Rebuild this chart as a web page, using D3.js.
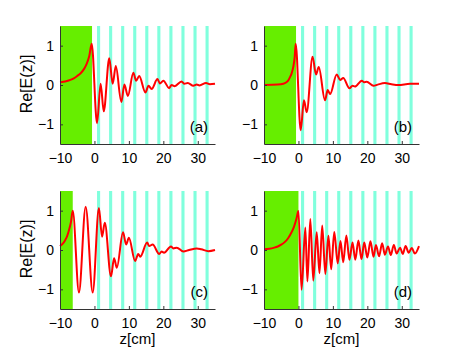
<!DOCTYPE html>
<html>
<head>
<meta charset="utf-8">
<script src="https://cdn.jsdelivr.net/npm/d3@7"></script>
<style>
  body { margin: 0; background: #fff; }
  text { font-family: "Liberation Sans", Arial, Helvetica, sans-serif; }
</style>
</head>
<body>
<svg id="fig" width="463" height="348"></svg>
<script>
// tick labels
var xTicks = [-10, 0, 10, 20, 30];
var yTicks = [-1, 0, 1];

// positions (cm) of the thin cyan layers, same in every panel
var layers = [1.2, 4.7, 8.2, 11.7, 15.2, 18.7, 22.2, 25.7, 29.2, 32.7];
var layerWidth = 0.9;

// end of the green region for each panel
var greenEnd = { a: -0.7, b: -0.7, c: -6.3, d: 0 };

// Re[E(z)], [z, value]
var curveA = [[-10, 0.07], [-9, 0.08], [-8, 0.1], [-7, 0.13], [-6, 0.17], [-5, 0.23], [-4, 0.3], [-3, 0.41],
  [-2.2, 0.55], [-1.5, 0.74], [-0.8, 1.05],
  [0.75, -0.97], [1.8, 0.03], [2.7, -0.67], [4.3, 0.68], [5.3, 0.03], [6.2, 0.48], [7.8, -0.43],
  [8.7, 0.01], [9.7, -0.28], [11.3, 0.31], [12.1, 0.11], [13.0, 0.23], [14.8, -0.19], [15.7, -0.02],
  [16.6, -0.1], [18.3, 0.15], [19.0, 0.04], [20.0, 0.11], [21.7, -0.08], [22.4, 0.0], [23.3, -0.03],
  [25.3, 0.09], [26.1, 0.03], [27.1, 0.05], [28.7, -0.02], [29.7, 0.01], [30.5, -0.01], [32.4, 0.05],
  [33.5, 0.02], [35, 0.03]];

var curveB = [[-10, 0.0], [-6, 0.01], [-4.4, 0.03], [-3.5, 0.07], [-3, 0.11], [-2.45, 0.2], [-2, 0.29],
  [-1.5, 0.46], [-1.1, 0.7], [-0.8, 1.05],
  [0.65, -1.15], [1.6, -0.39], [2.4, -0.69], [4.1, 0.72], [5.1, 0.27], [5.9, 0.46], [7.7, -0.39],
  [8.5, -0.13], [9.2, -0.23], [11.1, 0.27], [12.1, 0.13], [13.0, 0.18], [14.8, -0.08], [15.7, -0.02],
  [16.4, -0.04], [18.4, 0.11], [19.0, 0.07], [19.8, 0.08], [21.8, -0.02], [23.0, 0.01], [25.1, 0.05],
  [27.0, 0.02], [29, 0.0], [32.4, 0.03], [35, 0.03]];

var curveC = [[-10, 0.1], [-9.2, 0.16], [-8.5, 0.25], [-7.9, 0.36], [-7.4, 0.5], [-6.8, 0.72], [-6.3, 1.0],
  [-4.5, -1.08], [-2.55, 1.1], [-0.5, -1.08],
  [1.3, 1.07], [2.2, 0.34], [3.0, 0.69], [4.8, -0.67], [5.7, -0.21], [6.5, -0.45], [8.3, 0.45],
  [9.2, 0.14], [10.0, 0.31], [11.8, -0.28], [12.7, -0.1], [13.3, -0.17], [15.3, 0.19], [15.9, 0.1],
  [16.9, 0.14], [18.8, -0.1], [19.5, -0.04], [20.2, -0.07], [22.2, 0.09], [22.9, 0.04], [23.9, 0.06],
  [25.8, -0.04], [27.5, 0.0], [29.7, 0.04], [31.0, 0.02], [33.1, -0.03], [35, 0.0]];

var curveD = [[-10, 0.02], [-8.5, 0.03], [-7, 0.06], [-6, 0.09], [-5, 0.135], [-4, 0.2], [-3, 0.3],
  [-2, 0.45], [-1.3, 0.59], [-0.6, 0.79], [0, 0.99],
  [0.9, -1.01], [2.0, 0.57], [2.6, -0.8], [3.45, 0.79], [4.3, -0.78], [5.3, 0.45], [6.1, -0.59],
  [6.9, 0.62], [7.8, -0.61], [8.7, 0.36], [9.5, -0.49], [10.4, 0.46], [11.4, -0.34], [12.2, 0.23],
  [13.0, -0.31], [13.9, 0.37], [14.8, -0.25], [15.7, 0.19], [16.5, -0.25], [17.4, 0.24], [18.3, -0.23],
  [19.1, 0.19], [20.0, -0.19], [20.9, 0.22], [21.8, -0.17], [22.5, 0.13], [23.4, -0.16], [24.3, 0.17],
  [25.1, -0.12], [26.0, 0.09], [26.8, -0.13], [27.7, 0.13], [28.5, -0.09], [29.5, 0.06], [30.3, -0.1],
  [31.1, 0.1], [32.0, -0.07], [32.9, 0.05], [33.8, -0.09], [35, 0.1]];

var svg = d3.select("#fig");
var pw = 155, ph = 118;

var panels = [
  { key: "a", left: 60, top: 26, data: curveA, ylab: true, xlab: false },
  { key: "b", left: 264, top: 26, data: curveB, ylab: false, xlab: false },
  { key: "c", left: 60, top: 191, data: curveC, ylab: true, xlab: true },
  { key: "d", left: 264, top: 191, data: curveD, ylab: false, xlab: true }
];

var x = d3.scaleLinear().domain([-10, 35]).range([0, pw]);
var y = d3.scaleLinear().domain([-1.5, 1.5]).range([ph, 0]);

var line = d3.line()
  .x(function (d) { return x(d[0]); })
  .y(function (d) { return y(d[1]); })
  .curve(d3.curveMonotoneX);

var fmt = function (d) { return d < 0 ? "\u2212" + (-d) : d; };

panels.forEach(function (p) {
  var g = svg.append("g").attr("transform", "translate(" + p.left + "," + p.top + ")");

  // green region
  g.append("rect")
    .attr("x", x(-10)).attr("y", 0)
    .attr("width", x(greenEnd[p.key]) - x(-10))
    .attr("height", ph)
    .attr("fill", "#66ee00");

  // cyan layers
  g.selectAll(".layer")
    .data(layers)
    .enter().append("rect")
    .attr("class", "layer")
    .attr("x", function (d) { return x(d - layerWidth / 2); })
    .attr("y", 0)
    .attr("width", x(layerWidth) - x(0))
    .attr("height", ph)
    .attr("fill", "#80ffdd");

  g.append("path")
    .datum(p.data)
    .attr("fill", "none")
    .attr("stroke", "#ff0000")
    .attr("stroke-width", 2)
    .attr("d", line);

  // axes, MATLAB style ticks pointing in
  var xa = g.append("g")
    .attr("transform", "translate(0," + ph + ")")
    .call(d3.axisBottom(x).tickValues(xTicks).tickSizeInner(-3).tickSizeOuter(0)
      .tickPadding(9).tickFormat(fmt));
  var ya = g.append("g")
    .call(d3.axisLeft(y).tickValues(yTicks).tickSizeInner(-3).tickSizeOuter(0)
      .tickPadding(6).tickFormat(fmt));

  [xa, ya].forEach(function (a) {
    a.selectAll("text").attr("font-size", 14).attr("fill", "#000")
      .style("font-family", "'Liberation Sans', Arial, sans-serif");
    a.select(".domain").attr("stroke", "#333");
    a.selectAll(".tick line").attr("stroke", "#333");
  });

  g.append("text")
    .attr("x", pw - 7).attr("y", ph - 12)
    .attr("text-anchor", "end")
    .attr("font-size", 15)
    .text("(" + p.key + ")");

  if (p.ylab) {
    g.append("text")
      .attr("transform", "translate(-28," + (ph / 2 - 1) + ") rotate(-90)")
      .attr("text-anchor", "middle")
      .attr("font-size", 16)
      .text("Re[E(z)]");
  }
  if (p.xlab) {
    g.append("text")
      .attr("x", pw / 2).attr("y", ph + 35)
      .attr("text-anchor", "middle")
      .attr("font-size", 15)
      .text("z[cm]");
  }
});
</script>
</body>
</html>
